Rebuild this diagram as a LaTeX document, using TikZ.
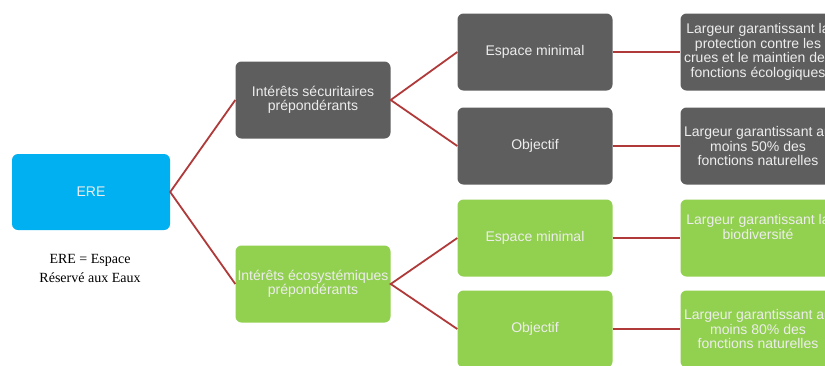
\documentclass[tikz,border=0pt]{standalone}
\usepackage{fontspec}
\setmainfont{Liberation Serif}
\setsansfont{Liberation Sans}
\usepackage{tikz}
\definecolor{ereblue}{HTML}{00B0F0}
\definecolor{boxgrey}{HTML}{5E5E5E}
\definecolor{boxgreen}{HTML}{92D050}
\definecolor{linkred}{HTML}{B03A3A}
\tikzset{
  box/.style={rounded corners=6pt, minimum width=155pt, minimum height=77pt,
    align=center, inner sep=0pt, font=\sffamily\fontsize{14}{14.5}\selectfont,
    text=white!93!black},
  greybox/.style={box, fill=boxgrey},
  greenbox/.style={box, fill=boxgreen},
  link/.style={draw=linkred, line width=1.8pt}
}
\begin{document}
\begin{tikzpicture}[x=1pt, y=-1pt]
        \useasboundingbox (0,0) rectangle (825,365);
        \clip (0,0) rectangle (825,365);
        \fill[white] (0,0) rectangle (825,365);
        % root
        \node[box, fill=ereblue, minimum width=158pt, minimum height=76pt] (ere) at (91,192) {ERE};
        \node[align=center, font=\fontsize{14}{19}\selectfont] (legende) at (90,268) {ERE = Espace\\R\'eserv\'e aux Eaux};
        % second level
        \node[greybox] (secu) at (313,100) {Int\'er\^ets s\'ecuritaires\\pr\'epond\'erants};
        \node[greenbox] (eco) at (313,284) {Int\'er\^ets \'ecosyst\'emiques\\pr\'epond\'erants};
        % third level
        \node[greybox] (secumin) at (535,52) {Espace minimal};
        \node[greybox] (secuobj) at (535,146) {Objectif};
        \node[greenbox] (ecomin) at (535,238) {Espace minimal};
        \node[greenbox] (ecoobj) at (535,329) {Objectif};
        % largeurs
        \node[greybox] (lsecumin) at (758,52) {Largeur garantissant la\\protection contre les\\crues et le maintien des\\fonctions \'ecologiques};
        \node[greybox] (lsecuobj) at (758,146) {Largeur garantissant au\\moins 50\% des\\fonctions naturelles};
        \node[greenbox] (lecomin) at (758,238) {Largeur garantissant la\\biodiversit\'e\\[8pt]};
        \node[greenbox] (lecoobj) at (758,329) {Largeur garantissant au\\moins 80\% des\\fonctions naturelles};
        % liens
        \draw[link] (secu.west) -- (ere.east) -- (eco.west);
        \draw[link] (secumin.west) -- (secu.east) -- (secuobj.west);
        \draw[link] (ecomin.west) -- (eco.east) -- (ecoobj.west);
        \draw[link] (secumin) -- (lsecumin);
        \draw[link] (secuobj) -- (lsecuobj);
        \draw[link] (ecomin) -- (lecomin);
        \draw[link] (ecoobj) -- (lecoobj);
    \end{tikzpicture}
\end{document}
